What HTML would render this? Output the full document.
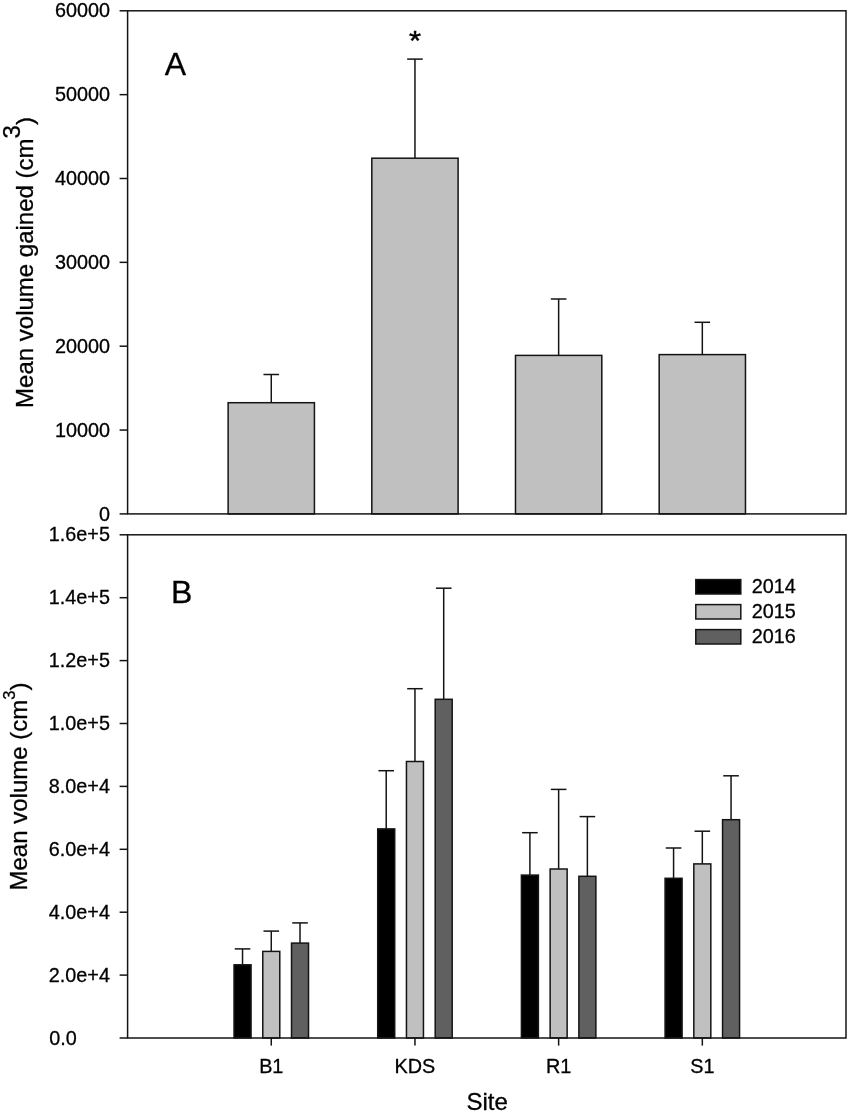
<!DOCTYPE html>
<html lang="en"><head><meta charset="utf-8"><title>Mean volume by site</title>
<style>html,body{margin:0;padding:0;background:#fff}body{width:850px;height:1114px;overflow:hidden}svg{display:block}text{font-family:"Liberation Sans",Arial,Helvetica,sans-serif;fill:#000;stroke:#000;stroke-width:0.3px}</style>
</head><body>
<svg width="850" height="1114" viewBox="0 0 850 1114">
<rect width="850" height="1114" fill="#fff"/>
<line x1="271.28" y1="374.50" x2="271.28" y2="402.70" stroke="#141414" stroke-width="1.5"/>
<line x1="263.48" y1="374.50" x2="279.08" y2="374.50" stroke="#141414" stroke-width="1.5"/>
<rect x="228.13" y="402.70" width="86.30" height="111.20" fill="#c0c0c0" stroke="#141414" stroke-width="1.5"/>
<line x1="414.96" y1="59.10" x2="414.96" y2="158.20" stroke="#141414" stroke-width="1.5"/>
<line x1="407.16" y1="59.10" x2="422.76" y2="59.10" stroke="#141414" stroke-width="1.5"/>
<rect x="371.81" y="158.20" width="86.30" height="355.70" fill="#c0c0c0" stroke="#141414" stroke-width="1.5"/>
<line x1="558.64" y1="299.00" x2="558.64" y2="355.40" stroke="#141414" stroke-width="1.5"/>
<line x1="550.84" y1="299.00" x2="566.44" y2="299.00" stroke="#141414" stroke-width="1.5"/>
<rect x="515.49" y="355.40" width="86.30" height="158.50" fill="#c0c0c0" stroke="#141414" stroke-width="1.5"/>
<line x1="702.32" y1="322.30" x2="702.32" y2="354.60" stroke="#141414" stroke-width="1.5"/>
<line x1="694.52" y1="322.30" x2="710.12" y2="322.30" stroke="#141414" stroke-width="1.5"/>
<rect x="659.17" y="354.60" width="86.30" height="159.30" fill="#c0c0c0" stroke="#141414" stroke-width="1.5"/>
<rect x="127.6" y="10.8" width="718.40" height="503.10" fill="none" stroke="#141414" stroke-width="1.5"/>
<line x1="119.60" y1="513.90" x2="127.60" y2="513.90" stroke="#141414" stroke-width="1.5"/>
<text x="109.9" y="520.50" font-size="19.8" text-anchor="end">0</text>
<line x1="119.60" y1="430.05" x2="127.60" y2="430.05" stroke="#141414" stroke-width="1.5"/>
<text x="109.9" y="436.65" font-size="19.8" text-anchor="end">10000</text>
<line x1="119.60" y1="346.20" x2="127.60" y2="346.20" stroke="#141414" stroke-width="1.5"/>
<text x="109.9" y="352.80" font-size="19.8" text-anchor="end">20000</text>
<line x1="119.60" y1="262.35" x2="127.60" y2="262.35" stroke="#141414" stroke-width="1.5"/>
<text x="109.9" y="268.95" font-size="19.8" text-anchor="end">30000</text>
<line x1="119.60" y1="178.50" x2="127.60" y2="178.50" stroke="#141414" stroke-width="1.5"/>
<text x="109.9" y="185.10" font-size="19.8" text-anchor="end">40000</text>
<line x1="119.60" y1="94.65" x2="127.60" y2="94.65" stroke="#141414" stroke-width="1.5"/>
<text x="109.9" y="101.25" font-size="19.8" text-anchor="end">50000</text>
<line x1="119.60" y1="10.80" x2="127.60" y2="10.80" stroke="#141414" stroke-width="1.5"/>
<text x="109.9" y="17.40" font-size="19.8" text-anchor="end">60000</text>
<line x1="242.54" y1="948.90" x2="242.54" y2="964.80" stroke="#141414" stroke-width="1.5"/>
<line x1="234.74" y1="948.90" x2="250.34" y2="948.90" stroke="#141414" stroke-width="1.5"/>
<rect x="234.04" y="964.80" width="17.00" height="73.20" fill="#000" stroke="#141414" stroke-width="1.5"/>
<line x1="271.28" y1="931.10" x2="271.28" y2="951.40" stroke="#141414" stroke-width="1.5"/>
<line x1="263.48" y1="931.10" x2="279.08" y2="931.10" stroke="#141414" stroke-width="1.5"/>
<rect x="262.78" y="951.40" width="17.00" height="86.60" fill="#c0c0c0" stroke="#141414" stroke-width="1.5"/>
<line x1="300.02" y1="922.90" x2="300.02" y2="943.10" stroke="#141414" stroke-width="1.5"/>
<line x1="292.22" y1="922.90" x2="307.82" y2="922.90" stroke="#141414" stroke-width="1.5"/>
<rect x="291.52" y="943.10" width="17.00" height="94.90" fill="#606060" stroke="#141414" stroke-width="1.5"/>
<line x1="386.22" y1="770.70" x2="386.22" y2="828.90" stroke="#141414" stroke-width="1.5"/>
<line x1="378.42" y1="770.70" x2="394.02" y2="770.70" stroke="#141414" stroke-width="1.5"/>
<rect x="377.72" y="828.90" width="17.00" height="209.10" fill="#000" stroke="#141414" stroke-width="1.5"/>
<line x1="414.96" y1="688.70" x2="414.96" y2="761.50" stroke="#141414" stroke-width="1.5"/>
<line x1="407.16" y1="688.70" x2="422.76" y2="688.70" stroke="#141414" stroke-width="1.5"/>
<rect x="406.46" y="761.50" width="17.00" height="276.50" fill="#c0c0c0" stroke="#141414" stroke-width="1.5"/>
<line x1="443.70" y1="588.20" x2="443.70" y2="699.30" stroke="#141414" stroke-width="1.5"/>
<line x1="435.90" y1="588.20" x2="451.50" y2="588.20" stroke="#141414" stroke-width="1.5"/>
<rect x="435.20" y="699.30" width="17.00" height="338.70" fill="#606060" stroke="#141414" stroke-width="1.5"/>
<line x1="529.90" y1="832.70" x2="529.90" y2="875.10" stroke="#141414" stroke-width="1.5"/>
<line x1="522.10" y1="832.70" x2="537.70" y2="832.70" stroke="#141414" stroke-width="1.5"/>
<rect x="521.40" y="875.10" width="17.00" height="162.90" fill="#000" stroke="#141414" stroke-width="1.5"/>
<line x1="558.64" y1="789.40" x2="558.64" y2="869.00" stroke="#141414" stroke-width="1.5"/>
<line x1="550.84" y1="789.40" x2="566.44" y2="789.40" stroke="#141414" stroke-width="1.5"/>
<rect x="550.14" y="869.00" width="17.00" height="169.00" fill="#c0c0c0" stroke="#141414" stroke-width="1.5"/>
<line x1="587.38" y1="816.60" x2="587.38" y2="876.30" stroke="#141414" stroke-width="1.5"/>
<line x1="579.58" y1="816.60" x2="595.18" y2="816.60" stroke="#141414" stroke-width="1.5"/>
<rect x="578.88" y="876.30" width="17.00" height="161.70" fill="#606060" stroke="#141414" stroke-width="1.5"/>
<line x1="673.58" y1="848.00" x2="673.58" y2="878.30" stroke="#141414" stroke-width="1.5"/>
<line x1="665.78" y1="848.00" x2="681.38" y2="848.00" stroke="#141414" stroke-width="1.5"/>
<rect x="665.08" y="878.30" width="17.00" height="159.70" fill="#000" stroke="#141414" stroke-width="1.5"/>
<line x1="702.32" y1="831.20" x2="702.32" y2="863.90" stroke="#141414" stroke-width="1.5"/>
<line x1="694.52" y1="831.20" x2="710.12" y2="831.20" stroke="#141414" stroke-width="1.5"/>
<rect x="693.82" y="863.90" width="17.00" height="174.10" fill="#c0c0c0" stroke="#141414" stroke-width="1.5"/>
<line x1="731.06" y1="775.80" x2="731.06" y2="819.70" stroke="#141414" stroke-width="1.5"/>
<line x1="723.26" y1="775.80" x2="738.86" y2="775.80" stroke="#141414" stroke-width="1.5"/>
<rect x="722.56" y="819.70" width="17.00" height="218.30" fill="#606060" stroke="#141414" stroke-width="1.5"/>
<rect x="127.6" y="534.8" width="718.40" height="503.20" fill="none" stroke="#141414" stroke-width="1.5"/>
<line x1="119.60" y1="1038.00" x2="127.60" y2="1038.00" stroke="#141414" stroke-width="1.5"/>
<text x="49.2" y="1044.60" font-size="19.8">0.0</text>
<line x1="119.60" y1="975.10" x2="127.60" y2="975.10" stroke="#141414" stroke-width="1.5"/>
<text x="109.9" y="981.70" font-size="19.8" text-anchor="end">2.0e+4</text>
<line x1="119.60" y1="912.20" x2="127.60" y2="912.20" stroke="#141414" stroke-width="1.5"/>
<text x="109.9" y="918.80" font-size="19.8" text-anchor="end">4.0e+4</text>
<line x1="119.60" y1="849.30" x2="127.60" y2="849.30" stroke="#141414" stroke-width="1.5"/>
<text x="109.9" y="855.90" font-size="19.8" text-anchor="end">6.0e+4</text>
<line x1="119.60" y1="786.40" x2="127.60" y2="786.40" stroke="#141414" stroke-width="1.5"/>
<text x="109.9" y="793.00" font-size="19.8" text-anchor="end">8.0e+4</text>
<line x1="119.60" y1="723.50" x2="127.60" y2="723.50" stroke="#141414" stroke-width="1.5"/>
<text x="109.9" y="730.10" font-size="19.8" text-anchor="end">1.0e+5</text>
<line x1="119.60" y1="660.60" x2="127.60" y2="660.60" stroke="#141414" stroke-width="1.5"/>
<text x="109.9" y="667.20" font-size="19.8" text-anchor="end">1.2e+5</text>
<line x1="119.60" y1="597.70" x2="127.60" y2="597.70" stroke="#141414" stroke-width="1.5"/>
<text x="109.9" y="604.30" font-size="19.8" text-anchor="end">1.4e+5</text>
<line x1="119.60" y1="534.80" x2="127.60" y2="534.80" stroke="#141414" stroke-width="1.5"/>
<text x="109.9" y="541.40" font-size="19.8" text-anchor="end">1.6e+5</text>
<line x1="271.28" y1="1038.00" x2="271.28" y2="1045.60" stroke="#141414" stroke-width="1.5"/>
<text x="271.28" y="1072.6" font-size="19.8" text-anchor="middle">B1</text>
<line x1="414.96" y1="1038.00" x2="414.96" y2="1045.60" stroke="#141414" stroke-width="1.5"/>
<text x="414.96" y="1072.6" font-size="19.8" text-anchor="middle">KDS</text>
<line x1="558.64" y1="1038.00" x2="558.64" y2="1045.60" stroke="#141414" stroke-width="1.5"/>
<text x="558.64" y="1072.6" font-size="19.8" text-anchor="middle">R1</text>
<line x1="702.32" y1="1038.00" x2="702.32" y2="1045.60" stroke="#141414" stroke-width="1.5"/>
<text x="702.32" y="1072.6" font-size="19.8" text-anchor="middle">S1</text>
<text x="487.2" y="1110.2" font-size="24" text-anchor="middle">Site</text>
<text transform="translate(32.5,407.9) rotate(-90)" font-size="24">Mean volume gained (cm<tspan dy="-12.4">3</tspan><tspan dy="12.4">)</tspan></text>
<text transform="translate(27.3,890.5) rotate(-90)" font-size="24">Mean volume (cm<tspan dy="-12.2" font-size="16.5">3</tspan><tspan dy="12.2">)</tspan></text>
<text x="164.8" y="75.1" font-size="32">A</text>
<text x="170.9" y="602.7" font-size="32">B</text>
<text transform="translate(415,49.8) scale(1,0.88)" font-size="31" text-anchor="middle" style="stroke-width:0.5px">*</text>
<rect x="695.8" y="579.60" width="45" height="14.4" fill="#000" stroke="#141414" stroke-width="1.5"/>
<text x="751.8" y="593.40" font-size="19.8">2014</text>
<rect x="695.8" y="604.60" width="45" height="14.4" fill="#c0c0c0" stroke="#141414" stroke-width="1.5"/>
<text x="751.8" y="618.40" font-size="19.8">2015</text>
<rect x="695.8" y="629.60" width="45" height="14.4" fill="#606060" stroke="#141414" stroke-width="1.5"/>
<text x="751.8" y="643.40" font-size="19.8">2016</text>
</svg></body></html>
